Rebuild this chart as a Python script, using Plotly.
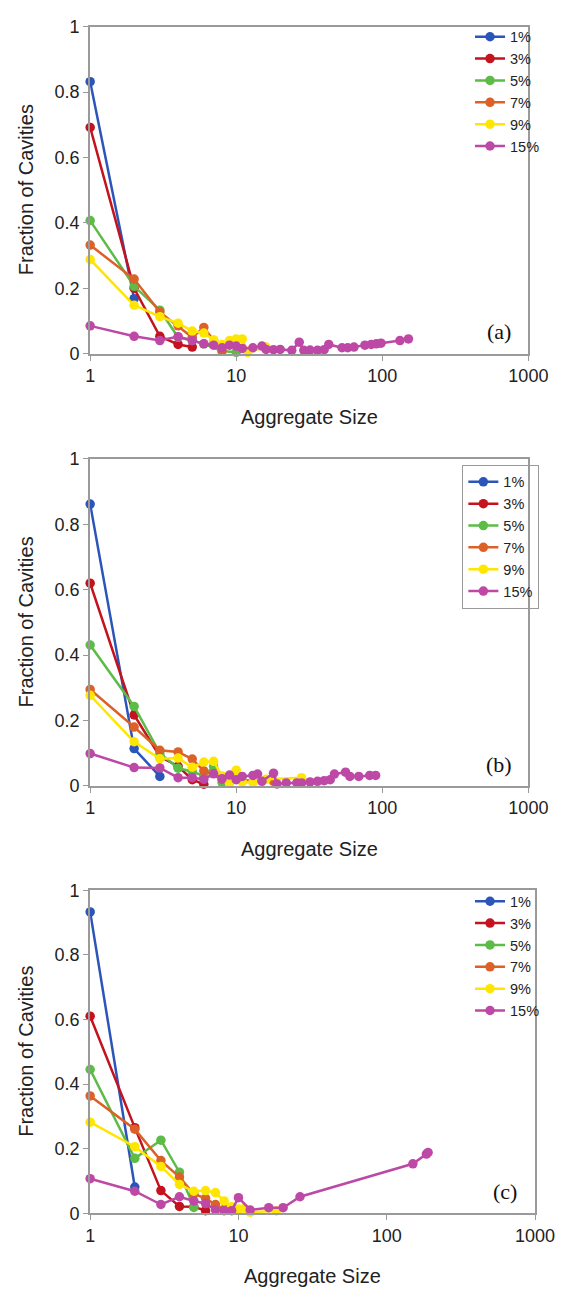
import plotly.graph_objects as go

labels = ["1%", "3%", "5%", "7%", "9%", "15%"]
colors = ["#2B55B8", "#C4121F", "#5DBB47", "#DC6128", "#FFE600", "#BD48A6"]

# ---------- panel (a) ----------
a_x1 = [1, 2]
a_y1 = [0.832, 0.168]
a_x3 = [1, 2, 3, 4, 5]
a_y3 = [0.692, 0.20, 0.053, 0.028, 0.02]
a_x5 = [1, 2, 3, 4, 5, 6, 8, 10]
a_y5 = [0.407, 0.206, 0.133, 0.05, 0.04, 0.03, 0.008, 0.004]
a_x7 = [1, 2, 3, 4, 5, 6, 7, 8]
a_y7 = [0.332, 0.228, 0.127, 0.085, 0.05, 0.08, 0.04, 0.008]
a_x9 = [1, 2, 3, 4, 5, 6, 7, 8, 9, 10, 11, 12, 16]
a_y9 = [0.288, 0.148, 0.113, 0.093, 0.069, 0.063, 0.042, 0.028, 0.04, 0.045, 0.045, 0.004, 0.02]
a_x15 = [1, 2, 3, 4, 5, 6, 7, 8, 9, 10, 11, 13, 15, 16, 18, 20, 24, 27, 29, 32, 36, 40, 43,
         53, 58, 64, 76, 84, 91, 98, 132, 151]
a_y15 = [0.085, 0.053, 0.04, 0.052, 0.04, 0.03, 0.026, 0.018, 0.026, 0.023, 0.016, 0.018,
         0.023, 0.013, 0.012, 0.013, 0.01, 0.035, 0.01, 0.011, 0.01, 0.012, 0.028,
         0.018, 0.018, 0.02, 0.026, 0.028, 0.03, 0.032, 0.04, 0.045]

# ---------- panel (b) ----------
b_x1 = [1, 2, 3]
b_y1 = [0.862, 0.114, 0.029]
b_x3 = [1, 2, 3, 4, 5, 6]
b_y3 = [0.62, 0.217, 0.09, 0.06, 0.019, 0.005]
b_x5 = [1, 2, 3, 4, 5, 6, 7, 8]
b_y5 = [0.431, 0.243, 0.1, 0.054, 0.044, 0.03, 0.059, 0.01]
b_x7 = [1, 2, 3, 4, 5, 6, 8, 18]
b_y7 = [0.295, 0.18, 0.109, 0.104, 0.082, 0.046, 0.02, 0.014]
b_x9 = [1, 2, 3, 4, 5, 6, 7, 8, 9, 10, 11, 13, 16, 28]
b_y9 = [0.277, 0.135, 0.083, 0.085, 0.057, 0.073, 0.075, 0.03, 0.008, 0.048, 0.012, 0.01, 0.02, 0.025]
b_x15 = [1, 2, 3, 4, 5, 6, 7, 8, 9, 10, 11, 13, 14, 15, 18, 19, 22, 26, 28, 32, 36, 40, 44,
         47, 56, 60, 69, 82, 90]
b_y15 = [0.099, 0.056, 0.055, 0.025, 0.025, 0.02, 0.037, 0.022, 0.033, 0.019, 0.029, 0.032,
         0.036, 0.014, 0.039, 0.006, 0.009, 0.009, 0.009, 0.012, 0.014, 0.016, 0.019,
         0.036, 0.042, 0.029, 0.029, 0.032, 0.032]

# ---------- panel (c) ----------
c_x1 = [1, 2]
c_y1 = [0.933, 0.081]
c_x3 = [1, 2, 3, 4, 5, 6]
c_y3 = [0.61, 0.265, 0.07, 0.021, 0.02, 0.008]
c_x5 = [1, 2, 3, 4, 5]
c_y5 = [0.445, 0.17, 0.226, 0.127, 0.018]
c_x7 = [1, 2, 3, 4, 5, 6, 7, 8]
c_y7 = [0.363, 0.26, 0.163, 0.112, 0.06, 0.046, 0.027, 0.012]
c_x9 = [1, 2, 3, 4, 5, 6, 7, 8, 9, 10, 11, 12, 18]
c_y9 = [0.282, 0.206, 0.145, 0.089, 0.068, 0.07, 0.064, 0.038, 0.02, 0.013, 0.015, 0.003, 0.007]
c_x15 = [1, 2, 3, 4, 5, 6, 7, 8, 9, 10, 12, 16, 20, 26, 150, 185, 190]
c_y15 = [0.107, 0.068, 0.027, 0.051, 0.038, 0.03, 0.01, 0.008, 0.008, 0.048, 0.01, 0.017,
         0.017, 0.051, 0.153, 0.183, 0.188]

panels = [
    ([a_x1, a_x3, a_x5, a_x7, a_x9, a_x15], [a_y1, a_y3, a_y5, a_y7, a_y9, a_y15]),
    ([b_x1, b_x3, b_x5, b_x7, b_x9, b_x15], [b_y1, b_y3, b_y5, b_y7, b_y9, b_y15]),
    ([c_x1, c_x3, c_x5, c_x7, c_x9, c_x15], [c_y1, c_y3, c_y5, c_y7, c_y9, c_y15]),
]
panel_tags = ["(a)", "(b)", "(c)"]

W, H = 579, 1301
# pixel geometry of each plot area: (left, right, top, bottom)
boxes = [(89, 547, 17, 349), (89, 547, 456, 788), (89, 554, 894, 1222)]
legend_tops = [11, 462, 889]

fig = go.Figure()
for p, (xs, ys) in enumerate(panels):
    ax = "" if p == 0 else str(p + 1)
    leg = "legend" if p == 0 else "legend" + str(p + 1)
    for i in range(6):
        fig.add_trace(go.Scatter(
            x=xs[i], y=ys[i], mode="lines+markers", name=labels[i],
            line=dict(color=colors[i], width=2.5),
            marker=dict(color=colors[i], size=9.5),
            xaxis="x" + ax, yaxis="y" + ax, legend=leg, cliponaxis=False,
        ))

layout = dict(
    width=W, height=H, margin=dict(l=0, r=0, t=0, b=0),
    paper_bgcolor="white", plot_bgcolor="white",
    font=dict(family="Liberation Sans, Arial, sans-serif", color="#222222"),
    showlegend=True,
)
annotations = []
for p, (l, r, t, b) in enumerate(boxes):
    ax = "" if p == 0 else str(p + 1)
    layout["xaxis" + ax] = dict(
        type="log", range=[0, 3], domain=[l / W, r / W], anchor="y" + ax,
        tickvals=[1, 10, 100, 1000], ticktext=["1", "10", "100", "1000"],
        showgrid=False, zeroline=False, showline=True, linecolor="#9A9A9A", linewidth=2,
        mirror=True, ticks="outside", ticklen=5, tickcolor="#9A9A9A",
        tickfont=dict(size=18, color="#222222"),
    )
    layout["yaxis" + ax] = dict(
        range=[0, 1], domain=[1 - b / H, 1 - t / H], anchor="x" + ax,
        tickvals=[0, 0.2, 0.4, 0.6, 0.8, 1], ticktext=["0", "0.2", "0.4", "0.6", "0.8", "1"],
        showgrid=False, zeroline=False, showline=True, linecolor="#9A9A9A", linewidth=2,
        mirror=True, ticks="outside", ticklen=5, tickcolor="#9A9A9A",
        tickfont=dict(size=18, color="#222222"),
    )
    leg = "legend" if p == 0 else "legend" + str(p + 1)
    layout[leg] = dict(
        x=486 / W if p != 1 else 478 / W, y=1 - legend_tops[p] / H,
        xanchor="left", yanchor="top",
        bgcolor="rgba(255,255,255,0)", font=dict(size=14.5, color="#222222"),
        borderwidth=1 if p == 1 else 0, bordercolor="#9A9A9A",
        itemwidth=30, tracegroupgap=0,
    )
    annotations.append(dict(
        text="Aggregate Size", x=(l + r) / 2 / W, y=1 - (b + 64) / H,
        xref="paper", yref="paper", showarrow=False, xanchor="center", yanchor="middle",
        font=dict(size=20, color="#222222"),
    ))
    annotations.append(dict(
        text="Fraction of Cavities", x=22 / W, y=1 - (t + b) / 2 / H,
        xref="paper", yref="paper", showarrow=False, textangle=-90,
        xanchor="center", yanchor="middle",
        font=dict(size=20, color="#222222"),
    ))
    annotations.append(dict(
        text=panel_tags[p], x=(r - 31) / W, y=1 - (b - 22) / H,
        xref="paper", yref="paper", showarrow=False, xanchor="center", yanchor="middle",
        font=dict(size=22, family="Liberation Serif, Times New Roman, serif", color="#111111"),
    ))
layout["annotations"] = annotations
fig.update_layout(**layout)
fig.write_html("out.html")
